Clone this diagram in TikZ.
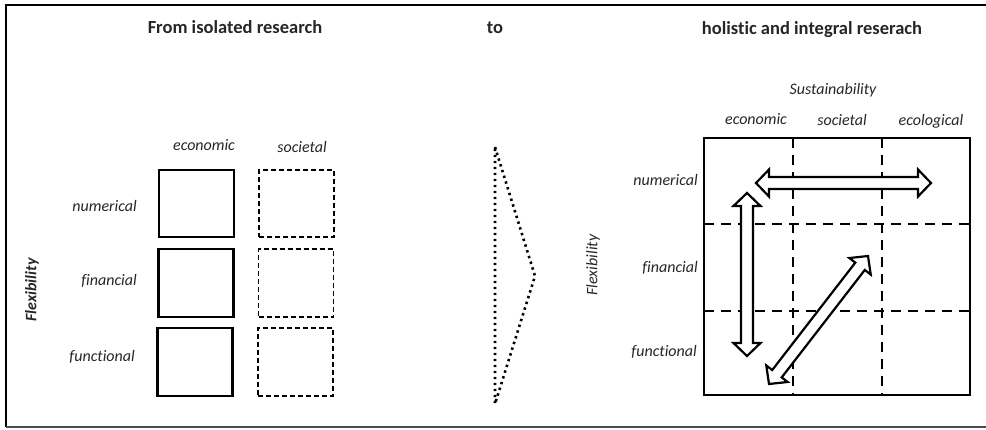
\documentclass[tikz,border=0pt]{standalone}
\usepackage{fontspec}
\setmainfont{Carlito}[Ligatures=NoCommon]
\usetikzlibrary{calc}
\definecolor{txt}{gray}{0.15}
\tikzset{
  title/.style={font=\fontsize{18.5}{20}\selectfont\bfseries, text=txt, inner sep=0pt},
  lbl/.style={font=\fontsize{16}{18}\selectfont\itshape, text=txt, inner sep=0pt},
  solidbox/.style={draw, line width=2.8pt, minimum width=75pt, minimum height=67pt, inner sep=0pt},
  dashbox/.style={draw, line width=1.8pt, dash pattern=on 5pt off 3pt, minimum width=75pt, minimum height=67pt, inner sep=0pt},
  gridline/.style={line width=2.8pt, dash pattern=on 10pt off 7pt},
  arrowline/.style={draw, line width=2.2pt, fill=white, line join=miter},
  dots/.style={line width=2.6pt, dash pattern=on 2.4pt off 3.6pt}
}
\newcommand\hollowarrow[3]{%
  \coordinate (#3a) at ($(#1)!13pt!(#2)$);
  \coordinate (#3b) at ($(#2)!13pt!(#1)$);
  \draw[arrowline] (#1) -- ($(#3a)!13.5pt!90:(#2)$) -- ($(#3a)!6pt!90:(#2)$)
    -- ($(#3b)!6pt!-90:(#1)$) -- ($(#3b)!13.5pt!-90:(#1)$) -- (#2)
    -- ($(#3b)!13.5pt!90:(#1)$) -- ($(#3b)!6pt!90:(#1)$)
    -- ($(#3a)!6pt!-90:(#2)$) -- ($(#3a)!13.5pt!-90:(#2)$) -- cycle;}
\begin{document}
\begin{tikzpicture}[x=1pt,y=-1pt]
\useasboundingbox (0,0) rectangle (986,429);
% frame
\draw[line width=2pt] (992,5) -- (6,5) -- (6,427);
\draw[line width=1.2pt, black!70] (6,427) -- (992,427);
% titles
\node[title] (t1) at (235,27) {From isolated research};
\node[title] (t2) at (495,28) {to};
\node[title] (t3) at (812,30) {holistic and integral reserach};
% left part
\node[lbl] (le) at (204,145) {economic};
\node[lbl] (ls) at (302,147) {societal};
\node[solidbox] (b11) at (196.5,203.5) {};
\node[solidbox, minimum height=68pt] (b21) at (196,283) {};
\node[solidbox, minimum height=68pt] (b31) at (195,362) {};
\node[dashbox] (b12) at (296.5,203.5) {};
\node[dashbox, minimum height=68pt] (b22) at (296,283) {};
\node[dashbox, minimum height=68pt] (b32) at (295.5,362) {};
\node[lbl, anchor=east] (ln) at (137,206) {numerical};
\node[lbl, anchor=east] (lf) at (137,281) {financial};
\node[lbl, anchor=east] (lfu) at (135,357) {functional};
\node[lbl, font=\fontsize{16}{18}\selectfont\bfseries\itshape, rotate=90] (lflex) at (32,290) {Flexibility};
% triangle
\coordinate (p1) at (495,147);
\coordinate (p2) at (535,276);
\coordinate (p3) at (495,404);
\draw[dots] (p1) -- (p2) -- (p3) -- cycle;
% right part
\node[lbl] (rs) at (833,90) {Sustainability};
\node[lbl] (re) at (756,119) {economic};
\node[lbl] (rso) at (842,120) {societal};
\node[lbl] (rec) at (931,121) {ecological};
\node[lbl, anchor=east] (rn) at (698,180) {numerical};
\node[lbl, anchor=east] (rf) at (698,268) {financial};
\node[lbl, anchor=east] (rfu) at (697,352) {functional};
\node[lbl, rotate=90] (rflex) at (593,265) {Flexibility};
\node[draw, line width=2.8pt, minimum width=266pt, minimum height=257pt, inner sep=0pt] (grid) at (837,266.5) {};
\draw[gridline] (793,138) -- (793,395);
\draw[gridline] (882,138) -- (882,395);
\draw[gridline] (704,224) -- (970,224);
\draw[gridline] (704,311) -- (970,311);
% arrows
\coordinate (h1) at (756,183);
\coordinate (h2) at (931,183);
\coordinate (v1) at (747,193);
\coordinate (v2) at (747,356);
\coordinate (d1) at (769,384);
\coordinate (d2) at (868,256);
\hollowarrow{h1}{h2}{ah}
\hollowarrow{v1}{v2}{av}
\hollowarrow{d1}{d2}{ad}
\end{tikzpicture}
\end{document}
